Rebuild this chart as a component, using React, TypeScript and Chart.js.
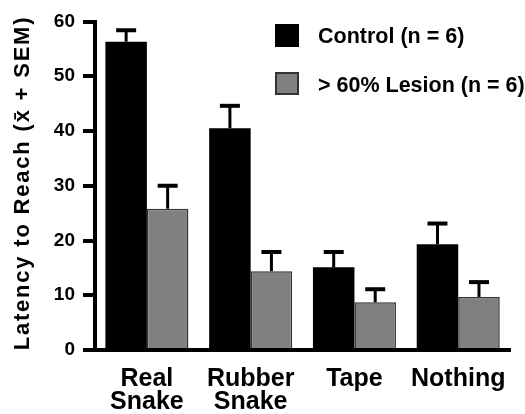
import React, { useEffect, useRef } from "react";
import { Chart, registerables } from "chart.js";

Chart.register(...registerables);

const categories: string[][] = [["Real", "Snake"], ["Rubber", "Snake"], ["Tape"], ["Nothing"]];
const seriesLabels = ["Control (n = 6)", "> 60% Lesion (n = 6)"];
const controlMeans = [56.3, 40.5, 15.1, 19.3];
const controlSEM = [2.1, 4.1, 2.8, 3.8];
const lesionMeans = [25.8, 14.4, 8.7, 9.7];
const lesionSEM = [4.2, 3.5, 2.4, 2.7];
const yMin = 0;
const yMax = 60;
const yStep = 10;
const yTitle = "Latency to Reach (x\u0304 + SEM)";

const FONT = '"Liberation Sans", Arial, Helvetica, sans-serif';
const GRAY = "#808080";

const errorBarPlugin = {
  id: "errorBars",
  afterDatasetsDraw(chart: any) {
    const ctx = chart.ctx;
    const yScale = chart.scales.y;
    const sems = [controlSEM, lesionSEM];
    chart.data.datasets.forEach((ds: any, i: number) => {
      const meta = chart.getDatasetMeta(i);
      meta.data.forEach((el: any, j: number) => {
        const v = ds.data[j];
        const yTop = yScale.getPixelForValue(v);
        const yErr = yScale.getPixelForValue(v + sems[i][j]);
        ctx.save();
        ctx.strokeStyle = "#000";
        ctx.lineWidth = 3;
        ctx.beginPath();
        ctx.moveTo(el.x, yTop);
        ctx.lineTo(el.x, yErr);
        ctx.stroke();
        ctx.lineWidth = 4;
        ctx.beginPath();
        ctx.moveTo(el.x - 10, yErr);
        ctx.lineTo(el.x + 10, yErr);
        ctx.stroke();
        ctx.restore();
      });
    });
  },
};

const legendTitlePlugin = {
  id: "legendTitle",
  afterDraw(chart: any) {
    const ctx = chart.ctx;
    ctx.save();
    const boxes = [
      { y: 24, baseline: 43 },
      { y: 72, baseline: 92 },
    ];
    chart.data.datasets.forEach((ds: any, i: number) => {
      const b = boxes[i];
      ctx.fillStyle = ds.backgroundColor;
      ctx.fillRect(275, b.y, 24, 23);
      if (ds.borderWidth) {
        ctx.strokeStyle = "#333";
        ctx.lineWidth = 2;
        ctx.strokeRect(276, b.y + 1, 22, 21);
      }
      ctx.fillStyle = "#000";
      ctx.font = `bold 21.5px ${FONT}`;
      ctx.textAlign = "left";
      ctx.textBaseline = "alphabetic";
      ctx.fillText(ds.label, 318, b.baseline);
    });
    ctx.translate(23, 183);
    ctx.rotate(-Math.PI / 2);
    ctx.font = `bold 22px ${FONT}`;
    (ctx as any).letterSpacing = "1.8px";
    ctx.textAlign = "center";
    ctx.textBaseline = "middle";
    ctx.fillStyle = "#000";
    ctx.fillText(yTitle, 0, 0);
    ctx.restore();
  },
};

export default function App() {
  const ref = useRef<HTMLCanvasElement | null>(null);
  useEffect(() => {
    if (!ref.current) return;
    const chart = new Chart(ref.current, {
      type: "bar",
      data: {
        labels: categories,
        datasets: [
          {
            label: seriesLabels[0],
            data: controlMeans,
            backgroundColor: "#000",
            borderWidth: 0,
            barPercentage: 1,
            categoryPercentage: 0.8,
          },
          {
            label: seriesLabels[1],
            data: lesionMeans,
            backgroundColor: GRAY,
            borderColor: "#333",
            borderWidth: 1.5,
            barPercentage: 1,
            categoryPercentage: 0.8,
          },
        ],
      },
      options: {
        animation: false,
        responsive: true,
        maintainAspectRatio: false,
        layout: { padding: { top: 21.5, right: 12.5, left: 0, bottom: 0 } },
        plugins: { legend: { display: false }, tooltip: { enabled: false } },
        scales: {
          x: {
            z: 1,
            grid: { display: false, drawTicks: false },
            border: { display: true, color: "#000", width: 4 },
            ticks: {
              color: "#000",
              padding: 18,
              font: { family: FONT, size: 25, weight: "bold", lineHeight: 0.92 },
              maxRotation: 0,
              autoSkip: false,
            },
            afterFit: (s: any) => {
              s.height = 64;
            },
          },
          y: {
            min: yMin,
            max: yMax,
            grid: {
              display: true,
              drawOnChartArea: false,
              drawTicks: true,
              tickLength: 12,
              lineWidth: 4,
              tickWidth: 4,
              color: "#000",
              tickColor: "#000",
            },
            border: { display: true, color: "#000", width: 4 },
            ticks: {
              stepSize: yStep,
              color: "#000",
              padding: 8,
              font: { family: FONT, size: 19, weight: "bold" },
            },
            afterFit: (s: any) => {
              s.width = 95;
            },
          },
        },
      },
      plugins: [errorBarPlugin, legendTitlePlugin],
    });
    return () => chart.destroy();
  }, []);
  return (
    <div style={{ position: "fixed", left: 0, top: 0, width: 525, height: 414, background: "#fff" }}>
      <canvas ref={ref} />
    </div>
  );
}
